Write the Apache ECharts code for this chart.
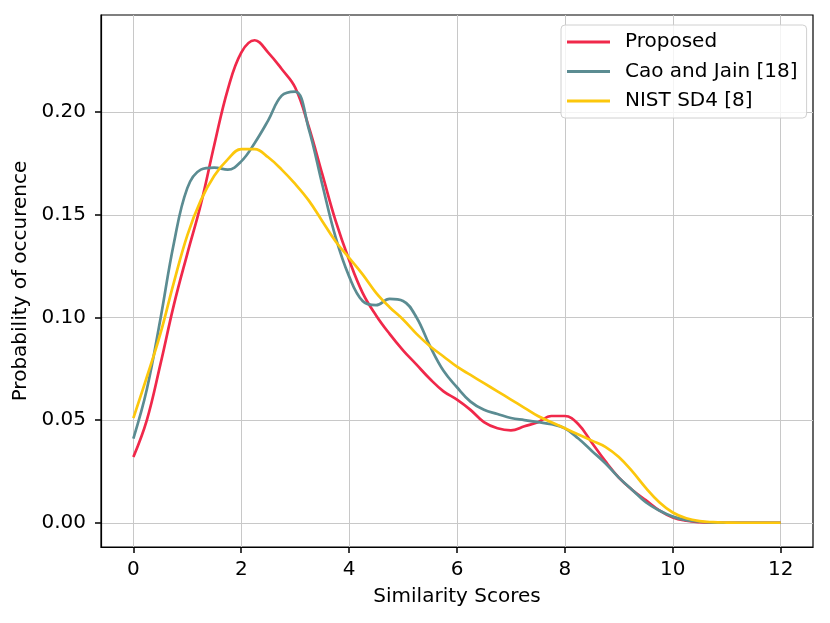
<!DOCTYPE html>
<html>
<head>
<meta charset="utf-8">
<script src="https://cdn.jsdelivr.net/npm/echarts@6/dist/echarts.min.js"></script>
<style>
  html, body { margin: 0; padding: 0; background: #fff; }
  #chart { width: 830px; height: 623px; }
</style>
</head>
<body>
<div id="chart"></div>
<script>
// similarity score grid (step 0.25)
var scores = [0, 0.25, 0.5, 0.75, 1, 1.25, 1.5, 1.75, 2, 2.25, 2.5, 2.75, 3, 3.25, 3.5, 3.75,
    4, 4.25, 4.5, 4.75, 5, 5.25, 5.5, 5.75, 6, 6.25, 6.5, 6.75, 7, 7.25, 7.5, 7.75,
    8, 8.25, 8.5, 8.75, 9, 9.25, 9.5, 9.75, 10, 10.25, 10.5, 10.75, 11, 11.25, 11.5, 11.75, 12];

var proposed = [0.032, 0.050, 0.077, 0.106, 0.131, 0.155, 0.184, 0.211, 0.229, 0.235, 0.229, 0.221, 0.212, 0.193, 0.170, 0.147,
    0.128, 0.112, 0.101, 0.092, 0.084, 0.077, 0.070, 0.064, 0.060, 0.055, 0.049, 0.046, 0.045, 0.047, 0.049, 0.052,
    0.052, 0.048, 0.039, 0.030, 0.022, 0.016, 0.011, 0.006, 0.0026, 0.001, 0.0003, 0.0001, 0, 0, 0, 0, 0];

var caoJain = [0.041, 0.065, 0.099, 0.136, 0.163, 0.172, 0.173, 0.172, 0.176, 0.185, 0.196, 0.208, 0.210, 0.192, 0.165, 0.139,
    0.120, 0.108, 0.106, 0.109, 0.108, 0.100, 0.086, 0.074, 0.066, 0.059, 0.055, 0.053, 0.051, 0.050, 0.049, 0.048,
    0.046, 0.041, 0.035, 0.029, 0.022, 0.016, 0.010, 0.006, 0.003, 0.0013, 0.0005, 0.0001, 0, 0, 0, 0, 0];

var nist = [0.051, 0.071, 0.092, 0.117, 0.140, 0.157, 0.169, 0.177, 0.182, 0.182, 0.178, 0.172, 0.165, 0.157, 0.147, 0.137,
    0.129, 0.121, 0.112, 0.105, 0.099, 0.092, 0.086, 0.081, 0.076, 0.072, 0.068, 0.064, 0.060, 0.056, 0.052, 0.049,
    0.046, 0.043, 0.040, 0.037, 0.032, 0.025, 0.017, 0.010, 0.005, 0.0022, 0.0008, 0.0003, 0.0001, 0, 0, 0, 0];

var xTicks = [0, 2, 4, 6, 8, 10, 12];
var yTicks = [0, 0.05, 0.10, 0.15, 0.20];

var names = ['Proposed', 'Cao and Jain [18]', 'NIST SD4 [8]'];
var colors = ['#f0284a', '#5b8c92', '#fcc70c'];

function pairs(ys) {
    var out = [];
    for (var i = 0; i < scores.length; i++) {
        out.push([scores[i], ys[i]]);
    }
    return out;
}

var font = 'DejaVu Sans';
var chart = echarts.init(document.getElementById('chart'));

var option = {
    animation: false,
    backgroundColor: '#fff',
    grid: {
        left: 101, right: 17, top: 15, bottom: 76,
        show: true, borderColor: '#000', borderWidth: 1.2
    },
    legend: {
        orient: 'vertical',
        left: 561, top: 25,
        data: names,
        icon: 'rect',
        itemWidth: 43, itemHeight: 3,
        itemGap: 7.5,
        padding: [6, 9, 6, 6],
        backgroundColor: 'rgba(255,255,255,0.8)',
        borderColor: '#d0d0d0', borderWidth: 1, borderRadius: 4,
        textStyle: { fontFamily: font, fontSize: 20, color: '#000', lineHeight: 22, padding: [0, 0, 0, 10] }
    },
    xAxis: [{
        type: 'value',
        position: 'bottom',
        min: -0.6, max: 12.6,
        name: 'Similarity Scores',
        nameLocation: 'middle',
        nameGap: 40,
        nameTextStyle: { fontFamily: font, fontSize: 20, color: '#000' },
        // sit on the zero of the hidden helper y axis, i.e. the bottom edge
        axisLine: { show: true, onZero: true, onZeroAxisIndex: 1, lineStyle: { color: '#000', width: 1.2 } },
        axisTick: { show: true, length: 6, lineStyle: { color: '#000', width: 1.5 }, customValues: xTicks },
        axisLabel: { fontFamily: font, fontSize: 20, color: '#000', margin: 13, customValues: xTicks },
        splitLine: { show: true, lineStyle: { color: '#c8c8c8', width: 1 } }
    }, {
        type: 'value', min: 0, max: 1, show: false
    }],
    yAxis: [{
        type: 'value',
        position: 'left',
        min: -0.0118, max: 0.2473,
        name: 'Probability of occurence',
        nameLocation: 'middle',
        nameGap: 62,
        nameRotate: 90,
        nameTextStyle: { fontFamily: font, fontSize: 20, color: '#000' },
        axisLine: { show: true, onZero: true, onZeroAxisIndex: 1, lineStyle: { color: '#000', width: 1.2 } },
        axisTick: { show: true, length: 6, lineStyle: { color: '#000', width: 1.5 }, customValues: yTicks },
        axisLabel: {
            fontFamily: font, fontSize: 20, color: '#000', margin: 15, customValues: yTicks,
            formatter: function (v) { return v.toFixed(2); }
        },
        splitLine: { show: true, lineStyle: { color: '#c8c8c8', width: 1 } }
    }, {
        type: 'value', min: 0, max: 1, show: false
    }],
    series: [proposed, caoJain, nist].map(function (ys, i) {
        return {
            name: names[i],
            type: 'line',
            data: pairs(ys),
            smooth: 0.4,
            showSymbol: false,
            symbol: 'none',
            color: colors[i],
            lineStyle: { color: colors[i], width: 2.7 }
        };
    })
};

chart.setOption(option);
</script>
</body>
</html>
